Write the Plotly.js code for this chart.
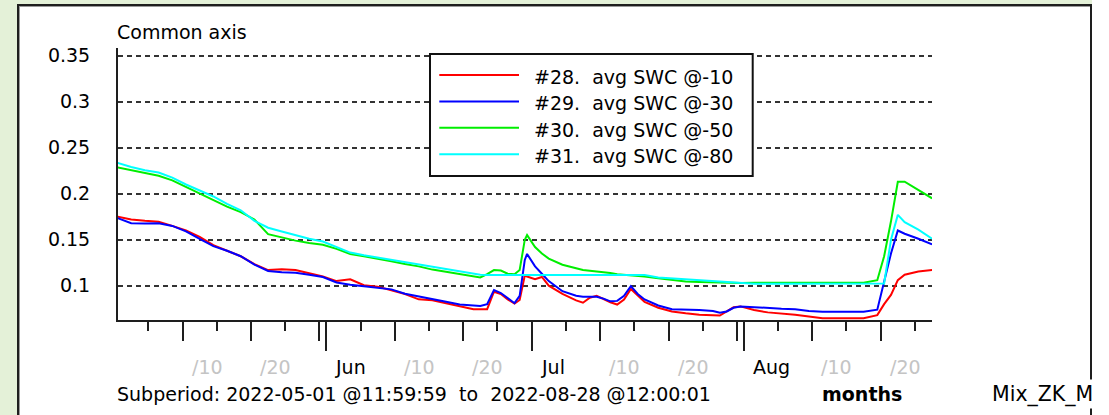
<!DOCTYPE html>
<html>
<head>
<meta charset="utf-8">
<script src="https://cdn.plot.ly/plotly-3.0.1.min.js"></script>
<style>
html,body{margin:0;padding:0;background:#ffffff;}
#wrap{position:relative;width:1109px;height:415px;overflow:hidden;}
#green{position:absolute;left:0;top:0;width:1092px;height:415px;background:#e4f1d8;}
#panel{position:absolute;left:17px;top:4px;width:1071px;height:440px;background:#ffffff;border:2px solid #1e1e1e;border-bottom:none;box-shadow:inset 1px 1px 0 #9a9a9a;}
#chart{position:absolute;left:0;top:0;width:1109px;height:415px;}
</style>
</head>
<body>
<div id="wrap">
  <div id="green"></div>
  <div id="panel"></div>
  <div id="chart"></div>
</div>
<script>
// ---------------- data ----------------
const dates = [
  '2022-05-01 12:00','2022-05-03 12:00','2022-05-05 12:00','2022-05-07 12:00','2022-05-09 12:00','2022-05-11 12:00',
  '2022-05-13 12:00','2022-05-15 12:00','2022-05-17 12:00','2022-05-19 12:00','2022-05-21 12:00','2022-05-23 12:00',
  '2022-05-25 12:00','2022-05-27 12:00','2022-05-29 12:00','2022-05-31 12:00',
  '2022-06-02 12:00','2022-06-04 12:00','2022-06-06 12:00','2022-06-08 12:00','2022-06-10 12:00','2022-06-12 12:00',
  '2022-06-14 12:00','2022-06-16 12:00','2022-06-18 12:00','2022-06-20 12:00','2022-06-22 12:00','2022-06-23 12:00',
  '2022-06-24 12:00','2022-06-25 12:00','2022-06-26 12:00','2022-06-27 12:00','2022-06-28 12:00','2022-06-29 06:00',
  '2022-06-30 00:00','2022-06-30 08:00',
  '2022-07-01 12:00','2022-07-02 12:00','2022-07-03 12:00','2022-07-05 12:00','2022-07-07 12:00','2022-07-08 12:00',
  '2022-07-09 12:00','2022-07-10 12:00','2022-07-11 12:00','2022-07-12 12:00','2022-07-13 12:00','2022-07-14 12:00',
  '2022-07-15 12:00','2022-07-16 12:00','2022-07-17 12:00','2022-07-19 12:00','2022-07-21 12:00','2022-07-23 12:00',
  '2022-07-25 12:00','2022-07-27 12:00','2022-07-28 12:00','2022-07-29 12:00','2022-07-30 12:00','2022-07-31 12:00',
  '2022-08-02 12:00','2022-08-04 12:00','2022-08-06 12:00','2022-08-08 12:00','2022-08-10 12:00','2022-08-12 12:00',
  '2022-08-14 12:00','2022-08-16 12:00','2022-08-18 12:00','2022-08-20 12:00','2022-08-21 12:00','2022-08-22 12:00',
  '2022-08-23 12:00','2022-08-24 12:00','2022-08-26 12:00','2022-08-28 12:00'
];

const swc10 = [
  0.175,0.172,0.1705,0.1696,0.165,0.160,0.153,0.144,0.138,0.132,0.1235,0.117,0.118,0.117,0.1135,0.110,
  0.105,0.107,0.1005,0.099,0.095,0.091,0.0852,0.0843,0.081,0.078,0.0745,0.0743,0.0745,0.0935,0.091,0.085,0.0805,0.0845,0.111,0.110,
  0.107,0.1095,0.100,0.091,0.084,0.0815,0.087,0.089,0.0855,0.082,0.0795,0.085,0.0965,0.089,0.0825,0.076,0.072,0.070,0.0685,0.068,0.0675,0.072,0.0765,0.0775,
  0.0735,0.071,0.070,0.0685,0.0665,0.0646,0.0646,0.0646,0.0646,0.068,0.080,0.090,0.106,0.112,0.1155,0.117
];
const swc30 = [
  0.1735,0.168,0.1675,0.1678,0.165,0.159,0.151,0.143,0.138,0.132,0.123,0.116,0.1145,0.114,0.112,0.1095,
  0.1035,0.101,0.0995,0.098,0.096,0.0912,0.0885,0.086,0.0825,0.0795,0.078,0.0779,0.080,0.0953,0.092,0.086,0.081,0.089,0.128,0.1345,
  0.121,0.113,0.105,0.094,0.089,0.088,0.088,0.088,0.086,0.083,0.0835,0.089,0.0995,0.091,0.085,0.0785,0.0745,0.0743,0.0736,0.0725,0.0705,0.072,0.076,0.0775,
  0.0765,0.0755,0.075,0.0745,0.0725,0.0717,0.0717,0.0717,0.0717,0.074,0.103,0.135,0.160,0.1565,0.151,0.145
];
const swc50 = [
  0.2285,0.2255,0.2225,0.2195,0.2145,0.2075,0.2005,0.193,0.186,0.180,0.172,0.156,0.1525,0.149,0.1465,0.1445,
  0.140,0.1345,0.132,0.1295,0.1265,0.1235,0.121,0.1175,0.115,0.1125,0.110,0.109,0.1125,0.117,0.1165,0.113,0.1125,0.117,0.150,0.155,
  0.142,0.135,0.1295,0.1228,0.119,0.117,0.1163,0.1155,0.115,0.1138,0.1125,0.112,0.1116,0.111,0.110,0.108,0.1065,0.1045,0.104,0.1035,0.103,0.103,0.103,0.103,
  0.1033,0.1033,0.1033,0.1033,0.1033,0.1033,0.1033,0.1033,0.1033,0.106,0.132,0.170,0.213,0.213,0.204,0.195
];
const swc80 = [
  0.2335,0.229,0.2255,0.223,0.2175,0.210,0.2035,0.197,0.189,0.182,0.1705,0.163,0.159,0.155,0.151,0.148,
  0.142,0.136,0.133,0.1305,0.128,0.1255,0.1225,0.1205,0.1175,0.115,0.113,0.112,0.1116,0.1116,0.1116,0.1116,0.1116,0.1116,0.1116,0.1116,
  0.1116,0.1116,0.1116,0.1116,0.1116,0.1116,0.1116,0.1116,0.1116,0.1116,0.1116,0.1116,0.1116,0.1116,0.1116,0.109,0.108,0.107,0.106,0.105,0.1045,0.104,0.1035,0.103,
  0.102,0.102,0.102,0.102,0.102,0.102,0.102,0.102,0.102,0.102,0.1025,0.150,0.177,0.169,0.161,0.151
];

const seriesNames = ['#28.\u00a0 avg SWC @-10','#29.\u00a0 avg SWC @-30','#30.\u00a0 avg SWC @-50','#31.\u00a0 avg SWC @-80'];
const seriesColors = ['#ff0000','#0000ff','#00ee00','#00ffff'];

const yTickVals = [0.1,0.15,0.2,0.25,0.3,0.35];
const yTickText = ['0.1','0.15','0.2','0.25','0.3','0.35'];

const monthTicks = ['2022-06-01','2022-07-01','2022-08-01'];
const tenDayTicks = ['2022-05-11','2022-05-21','2022-05-31','2022-06-11','2022-06-21','2022-07-11','2022-07-21','2022-07-31','2022-08-11','2022-08-21'];
const fiveDayTicks = ['2022-05-06','2022-05-16','2022-05-26','2022-06-06','2022-06-16','2022-06-26','2022-07-06','2022-07-16','2022-07-26','2022-08-06','2022-08-16','2022-08-26'];
const xLabelDates = ['2022-05-11','2022-05-21','2022-06-01','2022-06-11','2022-06-21','2022-07-01','2022-07-11','2022-07-21','2022-08-01','2022-08-11','2022-08-21'];
const xLabelText  = ['/10','/20','Jun','/10','/20','Jul','/10','/20','Aug','/10','/20'];

const axisTitle = 'Common axis';
const subperiodText = 'Subperiod: 2022-05-01 @11:59:59\u00a0 to\u00a0 2022-08-28 @12:00:01';
const unitText = 'months';
const sourceText = 'Mix_ZK_M';

// ---------------- layout helpers ----------------
const W = 1109, H = 415;
const L = 118, R = 177, T = 48, B = 95;
const PW = W - L - R, PH = H - T - B;
const px2x = px => (px - L) / PW;
const px2y = py => (H - B - py) / PH;
const xRange = ['2022-05-01 13:40','2022-08-28 11:50'];
const FONT = 'DejaVu Sans';

const traces = [swc10, swc30, swc50, swc80].map((vals, i) => ({
  type: 'scatter', mode: 'lines', x: dates, y: vals, name: seriesNames[i],
  line: {color: seriesColors[i], width: 2}, hoverinfo: 'skip'
}));
traces.push({type:'scatter', mode:'lines', x:[], y:[], xaxis:'x2', yaxis:'y', showlegend:false, hoverinfo:'skip'});

const shapes = [];
const annotations = [];

// legend box
const legL = 430, legR = 752.7, legT = 54, legB = 176;
shapes.push({type:'rect', xref:'paper', yref:'paper', x0:px2x(legL), x1:px2x(legR), y0:px2y(legB), y1:px2y(legT),
  line:{color:'#111', width:2}, fillcolor:'#ffffff', layer:'above'});
seriesNames.forEach((nm, i) => {
  const yy = 75 + i * 26.4;
  shapes.push({type:'line', xref:'paper', yref:'paper', x0:px2x(439.3), x1:px2x(519), y0:px2y(yy), y1:px2y(yy),
    line:{color:seriesColors[i], width:2}, layer:'above'});
  annotations.push({xref:'paper', yref:'paper', x:px2x(535), y:px2y(yy + 2), xanchor:'left', yanchor:'middle', xshift:-3,
    text:nm, showarrow:false, font:{family:FONT, size:19, color:'#000'}});
});

// axis title
annotations.push({xref:'paper', yref:'paper', x:0, y:1, xanchor:'left', yanchor:'middle', xshift:-3, yshift:16.5,
  text:axisTitle, showarrow:false, font:{family:FONT, size:19, color:'#000'}});

// x tick labels
xLabelDates.forEach((d, i) => {
  const isMonth = !xLabelText[i].startsWith('/');
  annotations.push({xref:'x', yref:'paper', x:d, y:0, xanchor:'left', yanchor:'middle', xshift:7, yshift:-46.5,
    text:xLabelText[i], showarrow:false, font:{family:FONT, size:19, color: isMonth ? '#000' : '#c4c4c4'}});
});

// bottom line texts
annotations.push({xref:'paper', yref:'paper', x:0, y:0, xanchor:'left', yanchor:'middle', xshift:-3, yshift:-74,
  text:subperiodText, showarrow:false, font:{family:FONT, size:19, color:'#000'}});
annotations.push({xref:'paper', yref:'paper', x:px2x(823), y:0, xanchor:'left', yanchor:'middle', xshift:-3, yshift:-74,
  text:'<b>' + unitText + '</b>', showarrow:false, font:{family:FONT, size:19, color:'#000'}});
annotations.push({xref:'paper', yref:'paper', x:px2x(991), y:0, xanchor:'left', yanchor:'middle', yshift:-74,
  width:101, height:28, align:'left', bgcolor:'#ffffff', borderpad:0,
  text:sourceText, showarrow:false, font:{family:FONT, size:20.5, color:'#000'}});

const tickCol = '#1e1e1e';
const layout = {
  width: W, height: H,
  margin: {l:L, r:R, t:T, b:B, pad:0},
  paper_bgcolor:'rgba(0,0,0,0)', plot_bgcolor:'rgba(0,0,0,0)',
  font:{family:FONT, size:19, color:'#000'},
  showlegend:false,
  xaxis:{type:'date', range:xRange, showgrid:false, zeroline:false, showline:true, linecolor:tickCol, linewidth:2,
    tickmode:'array', tickvals:monthTicks, ticks:'outside', ticklen:29, tickwidth:2, tickcolor:tickCol, showticklabels:false,
    minor:{tickmode:'array', tickvals:tenDayTicks, ticks:'outside', ticklen:19, tickwidth:2, tickcolor:tickCol, showgrid:false},
    fixedrange:true},
  xaxis2:{type:'date', range:xRange, overlaying:'x', anchor:'y', side:'bottom', showgrid:false, zeroline:false, showline:false,
    tickmode:'array', tickvals:fiveDayTicks, ticks:'outside', ticklen:10, tickwidth:2, tickcolor:tickCol, showticklabels:false,
    fixedrange:true},
  yaxis:{range:[0.06272,0.35837], showline:true, linecolor:tickCol, linewidth:2, ticks:'',
    tickmode:'array', tickvals:yTickVals, ticktext:yTickText, ticklabelstandoff:22,
    showgrid:true, gridcolor:'#333333', gridwidth:2, griddash:'5px,4px', zeroline:false, fixedrange:true,
    tickfont:{family:FONT, size:19, color:'#000'}},
  shapes: shapes,
  annotations: annotations
};

Plotly.newPlot('chart', traces, layout, {displayModeBar:false, staticPlot:true});
</script>
</body>
</html>
